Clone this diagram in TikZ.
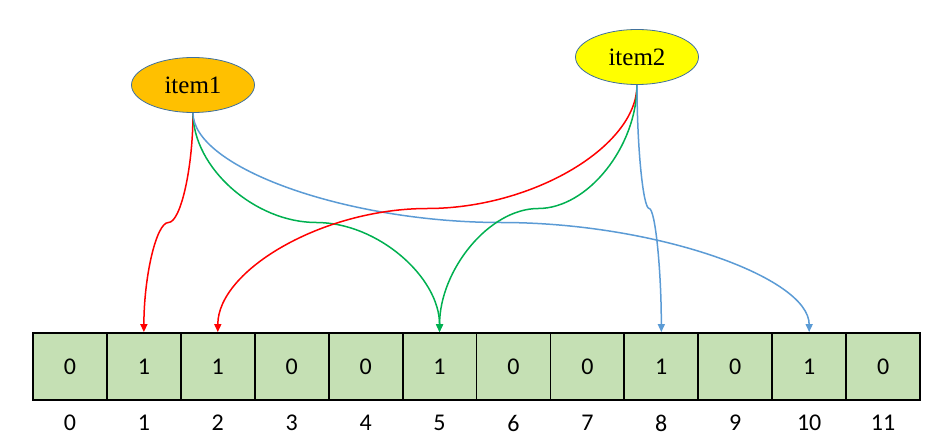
\documentclass[tikz,border=0pt]{standalone}
\usepackage{fontspec}
\setmainfont{Liberation Serif}
\newfontfamily\numfont{Carlito}
\usetikzlibrary{shapes.geometric,arrows.meta,calc}

\definecolor{cellgreen}{HTML}{C5E0B4}
\definecolor{itemorange}{HTML}{FFC000}
\definecolor{itemyellow}{HTML}{FFFF00}
\definecolor{itemborder}{HTML}{41719C}
\definecolor{hashred}{HTML}{FF0000}
\definecolor{hashgreen}{HTML}{00B050}
\definecolor{hashblue}{HTML}{5B9BD5}

\tikzset{
  item/.style={ellipse, draw=itemborder, line width=0.8pt, minimum width=123pt,
    minimum height=55pt, inner sep=0pt, font=\fontsize{25pt}{27pt}\selectfont},
  cell/.style={draw, line width=1.8pt, fill=cellgreen, minimum width=73.9pt,
    minimum height=67pt, inner sep=0pt, font=\numfont\fontsize{24pt}{26pt}\selectfont},
  idx/.style={inner sep=0pt, font=\numfont\fontsize{24pt}{26pt}\selectfont},
  hash/.style={line width=1.5pt, -{Triangle[length=8pt,width=7pt]}},
  % curved connector: vertical out, horizontal through the middle, vertical in
  elbow/.style={to path={
    let \p1=(\tikztostart), \p2=(\tikztotarget) in
    .. controls (\x1,{(3*\y1+\y2)/4}) and ({(3*\x1+\x2)/4},{(\y1+\y2)/2})
    .. ({(\x1+\x2)/2},{(\y1+\y2)/2})
    .. controls ({(\x1+3*\x2)/4},{(\y1+\y2)/2}) and (\x2,{(\y1+3*\y2)/4})
    .. (\tikztotarget)}}
}

\begin{document}
\begin{tikzpicture}[x=1pt, y=-1pt]
  \useasboundingbox (0,0) rectangle (941,446);

  % the bit array
  \foreach \v [count=\i from 0] in {0,1,1,0,0,1,0,0,1,0,1,0} {
    \node[cell] (c\i) at ({33+73.92*(\i+0.5)},366.5) {\v};
    \node[idx] (n\i) at ({33+73.92*(\i+0.5)},423) {\i};
  }

  % the two items
  \node[item, fill=itemorange] (item1) at (193,85) {item1};
  \node[item, fill=itemyellow] (item2) at (637,57) {item2};

  % hash functions
  \draw[hash, hashred]   (item1.south) to[elbow] (c1.north);
  \draw[hash, hashgreen] (item1.south) to[elbow] (c5.north);
  \draw[hash, hashblue]  (item1.south) to[elbow] (c10.north);
  \draw[hash, hashred]   (item2.south) to[elbow] (c2.north);
  \draw[hash, hashgreen] (item2.south) to[elbow] (c5.north);
  \draw[hash, hashblue]  (item2.south) to[elbow] (c8.north);
\end{tikzpicture}
\end{document}
